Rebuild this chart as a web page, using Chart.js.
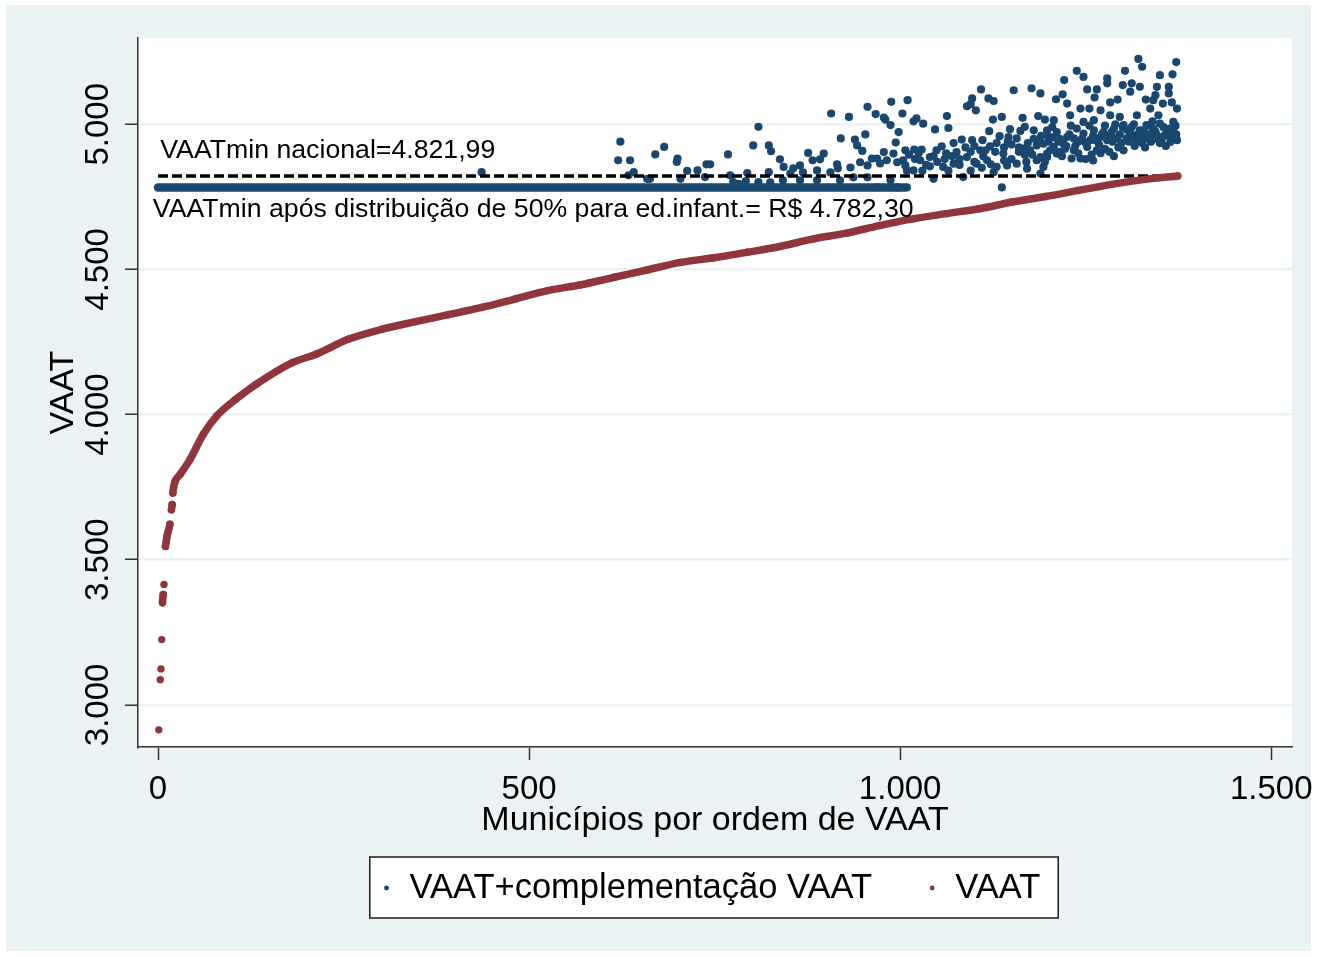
<!DOCTYPE html>
<html><head><meta charset="utf-8">
<script src="https://cdn.jsdelivr.net/npm/chart.js@4.4.1/dist/chart.umd.min.js"></script>
<style>html,body{margin:0;padding:0;background:#fff}#wrap{width:1317px;height:957px}</style>
</head><body><div id="wrap"><canvas id="c" width="1317" height="957"></canvas></div>
<script>
const FONT = "'Liberation Sans', Arial, sans-serif";
const BLUE = '#1A476F', RED = '#90353B', BG = '#EAF2F3';

// Axis ticks
const xTicks = [0, 500, 1000, 1500];
const yTicks = [3000, 3500, 4000, 4500, 5000];

// Reference values
const vaatMinNacional = 4821.99;
const vaatMinApos = 4782.30;

// Series names and annotation texts
const seriesNames = ['VAAT+complementação VAAT', 'VAAT'];
const noteNacional = 'VAATmin nacional=4.821,99';
const noteApos = 'VAATmin após distribuição de 50% para ed.infant.= R$ 4.782,30';

// VAAT (sorted municipalities)
const redX = [1, 3, 4, 5, 6, 7, 8, 10, 11, 12, 14, 16, 18, 19, 20, 21, 23, 30, 43, 61, 79, 105, 132, 181, 213, 257, 302, 347, 391, 436, 481, 525, 570, 615, 659, 704, 749, 794, 838, 883, 928, 972, 1017, 1062, 1106, 1151, 1196, 1240, 1285, 1330, 1374];
const redY = [2914, 3087, 3124, 3225, 3352, 3380, 3415, 3546, 3560, 3580, 3600, 3622, 3672, 3690, 3730, 3750, 3770, 3795, 3845, 3932, 3995, 4053, 4104, 4179, 4208, 4260, 4294, 4320, 4344, 4369, 4398, 4427, 4447, 4473, 4498, 4524, 4540, 4559, 4579, 4605, 4625, 4651, 4674, 4692, 4709, 4732, 4751, 4772, 4793, 4810, 4822];

// VAAT + complementação: municipalities held at the floor value
const blueFlatX = [0, 1006];
// VAAT + complementação: municipalities above the floor
const blueX = [436, 623, 620, 636, 641, 634, 659, 663, 670, 682, 700, 699, 704, 713, 727, 737, 739, 744, 768, 771, 775, 782, 792, 794, 802, 809, 809, 823, 826, 838, 843, 823, 852, 865, 876, 882, 892, 897, 907, 915, 920, 931, 939, 942, 949, 953, 956, 967, 978, 980, 987, 998, 994, 988, 1003, 1010, 1007, 978, 991, 969, 962, 856, 869, 888, 906, 916, 933, 946, 956, 973, 982, 996, 1004, 1009, 937, 956, 987, 888, 865, 842, 825, 919, 996, 1009, 969,
  1018, 1022, 1031, 1047, 1063, 1065, 1090, 1097, 1095, 1102, 1109, 1119, 1126, 1125, 1120, 1137, 1153, 1177, 1189, 1186, 1165, 1168, 1162, 1148, 1195, 1198, 1180, 1019, 1029, 1056, 1072, 1083, 1097, 1111, 1134, 1146, 1157, 1121, 1137, 1045, 1085, 1007, 1027, 1040, 1058, 1072, 1090, 1103, 1117, 1130, 1144, 1157, 1171, 1184, 1193, 1198, 1049, 1076, 1108, 1139, 1166, 1184, 1018, 1126, 1189,
  1321, 1326, 1372, 1238, 1247, 1221, 1279, 1279, 1303, 1300, 1312, 1323, 1310, 1350, 1367, 1346, 1362, 1362, 1344, 1252, 1265, 1219, 1210, 1225, 1262, 1283, 1293, 1331, 1341, 1354, 1366, 1243, 1255, 1270, 1229, 1373, 1337, 1207, 1247, 1261, 1283, 1296, 1319, 1348, 1368, 1198, 1211, 1225, 1238, 1234, 1247, 1261, 1274, 1288, 1301, 1310, 1323, 1332, 1341, 1350, 1359, 1368, 1373, 1364, 1193, 1207, 1220, 1234, 1243, 1231, 1252, 1265, 1256, 1279, 1292, 1301, 1305, 1319, 1332, 1346, 1328, 1189, 1198, 1211, 1270, 1285,
  1300, 1315, 1335, 1355, 1362, 1371, 1340, 1325, 1215, 1228, 1240, 1250, 1260, 1268, 1276, 1286, 1296, 1308, 1316, 1326, 1338, 1352, 1358, 1366, 1344, 1312, 1290, 1276, 1255, 1230, 1205, 1215, 1222, 1258, 1282, 1150, 1160, 1172, 1178, 1140, 1128, 1112, 1100, 1088, 1070, 1060, 1050, 1035, 1020, 1012, 1030, 1065, 1095, 1110, 1150, 1170, 1195, 1180, 1190, 1205,
  1200, 1213, 1224, 1236, 1245, 1263, 1272, 1282, 1298, 1306, 1320, 1330, 1342, 1356, 1364, 1372, 1350, 1336, 1314, 1294, 1270, 1240, 1218, 1202, 1250, 1288, 1260, 1045, 1062, 1080, 1095, 1115, 1130, 1145, 1160, 1175, 1188, 1122, 1140, 1168, 1100, 1080, 1040, 1025];
const blueY = [4835, 4940, 4876, 4876, 4835, 4824, 4812, 4812, 4896, 4922, 4882, 4870, 4812, 4839, 4841, 4818, 4862, 4862, 4896, 4824, 4801, 4795, 4804, 4832, 4927, 4991, 4801, 4927, 4907, 4879, 4853, 4835, 4830, 4858, 4901, 4876, 4879, 4899, 5037, 4862, 4951, 5025, 4947, 4927, 4908, 4965, 5060, 5035, 5023, 5016, 4997, 4973, 4937, 5077, 5037, 5083, 4910, 4904, 4899, 4882, 4882, 4848, 4834, 4841, 4834, 4848, 4851, 4869, 4858, 4865, 4876, 4869, 4876, 4841, 4817, 4817, 4807, 4807, 4807, 4807, 4800, 4807, 4782.3, 4782.3, 4782.3,
  5010, 5020, 5002, 4982, 5028, 4987, 5062, 5089, 5069, 5048, 5120, 5089, 5080, 5016, 4976, 5025, 5117, 5124, 5106, 5028, 5022, 4991, 4977, 4983, 5016, 4962, 4979, 4913, 4913, 4924, 4935, 4947, 4945, 4945, 4959, 4956, 4951, 4924, 4782.3, 4812, 4818, 4858, 4876, 4887, 4853, 4864, 4887, 4864, 4876, 4853, 4858, 4864, 4847, 4876, 4853, 4899, 4910, 4904, 4910, 4899, 4916, 4927, 4841, 4835, 4830,
  5225, 5198, 5214, 5184, 5163, 5152, 5158, 5141, 5184, 5135, 5141, 5129, 5112, 5169, 5172, 5129, 5129, 5106, 5100, 5120, 5120, 5103, 5086, 5071, 5092, 5075, 5085, 5085, 5083, 5071, 5075, 5054, 5054, 5048, 5031, 5054, 5054, 5014, 5008, 5014, 5031, 5025, 5031, 5031, 5008, 4979, 4973, 4956, 4985, 4951, 4968, 4979, 4973, 4985, 4997, 4968, 4979, 4997, 4985, 5002, 4973, 4979, 4945, 4939, 4933, 4922, 4933, 4910, 4882, 4882, 4922, 4910, 4945, 4945, 4951, 4910, 4951, 4945, 4951, 4962, 4979, 4887, 4887, 4899, 4956, 4973,
  4990, 5000, 4965, 4990, 4960, 4995, 5010, 4960, 4950, 4965, 4940, 4935, 4960, 4930, 4915, 4940, 4965, 4940, 4925, 4935, 4940, 4945, 4925, 4955, 4975, 4990, 5000, 4995, 4995, 4995, 4955, 4905, 4915, 4895, 4905, 4930, 4905, 4935, 4895, 4920, 4905, 4890, 4925, 4920, 4890, 4880, 4870, 4860, 4880, 4895, 4840, 4840, 4840, 4850, 4880, 4870, 4870, 4950, 4960, 4990,
  4940, 4940, 4925, 4925, 4950, 4945, 4965, 4960, 4935, 4980, 4965, 4920, 4950, 4960, 4985, 4965, 4935, 4995, 4955, 4920, 4900, 4900, 4890, 4910, 4880, 4890, 4875, 4890, 4900, 4880, 4905, 4910, 4935, 4940, 4920, 4910, 4945, 4862, 4875, 4895, 4870, 4860, 4855, 4900];

// Reference line extent (municipality index range)
const refLineX = [0, 1374];

const fmt = v => String(v).replace(/\B(?=(\d{3})+(?!\d))/g, '.');
const pts = (xs, ys) => xs.map((x, i) => ({x, y: ys[i]}));
const flat = (xs, v) => xs.map(x => ({x, y: v}));

const LEG = {font: 34.5, pad: 54.5, box: 11.5};

const bgPlugin = {
  id: 'bg',
  afterLayout(chart) {
    const lg = chart.legend, ca = chart.chartArea;
    const h = lg.bottom - lg.top;
    lg.left = ca.left - 9; lg.right = ca.right;
    lg.top = 888 - LEG.pad - LEG.font / 2;
    lg.bottom = lg.top + h;
  },
  beforeDraw(chart) {
    const ctx = chart.ctx, ca = chart.chartArea, W = chart.width, H = chart.height;
    ctx.save();
    ctx.fillStyle = '#fff'; ctx.fillRect(0, 0, W, H);
    ctx.fillStyle = BG; ctx.fillRect(6, 5, W - 12, H - 11);
    ctx.fillStyle = '#fff'; ctx.fillRect(ca.left, ca.top, ca.right - ca.left, ca.bottom - ca.top);
    // legend frame
    const lg = chart.legend, p = LEG.pad;
    const lw = lg.lineWidths[0];
    const start = (lg.left + p + lg.right - lw) / 2;
    const end = start + lw - p;
    const cy = lg.top + p + LEG.font / 2;
    ctx.fillStyle = '#fff';
    ctx.fillRect(start - 11, cy - 31, end - start + 29, 61);
    ctx.strokeStyle = '#1a1a1a'; ctx.lineWidth = 1.5;
    ctx.strokeRect(start - 11, cy - 31, end - start + 29, 61);
    ctx.restore();
  },
  afterDatasetsDraw(chart) {
    const ctx = chart.ctx, xs = chart.scales.x, ys = chart.scales.y;
    ctx.save();
    ctx.fillStyle = '#000';
    ctx.font = '26.7px ' + FONT;
    ctx.textBaseline = 'alphabetic';
    ctx.textAlign = 'left';
    ctx.fillText(noteNacional, xs.getPixelForValue(3), ys.getPixelForValue(4883));
    ctx.fillText(noteApos, xs.getPixelForValue(-7), ys.getPixelForValue(4679));
    ctx.restore();
  }
};

new Chart(document.getElementById('c'), {
  type: 'scatter',
  data: {
    datasets: [
      {label: seriesNames[0], data: pts(blueX, blueY), backgroundColor: BLUE, borderColor: BLUE,
       pointRadius: 4.1, pointBorderWidth: 0, pointHoverRadius: 4.1, order: 2},
      {label: seriesNames[1], data: pts(redX, redY), backgroundColor: RED, borderColor: RED,
       pointRadius: 3.7, pointBorderWidth: 0, showLine: true, borderWidth: 7.5, cubicInterpolationMode: 'monotone',
       borderCapStyle: 'round', borderJoinStyle: 'round', order: 0,
       segment: {borderColor: c => {
         const dx = c.p1.parsed.x - c.p0.parsed.x, dy = Math.abs(c.p1.parsed.y - c.p0.parsed.y);
         return (dx > 5 || dy < 30) ? RED : 'rgba(0,0,0,0)';
       }}},
      {label: 'ref', data: flat(refLineX, vaatMinNacional), borderColor: '#000', backgroundColor: '#000',
       showLine: true, borderWidth: 3.5, borderDash: [10, 4], pointRadius: 0, order: 1},
      {label: 'band', data: flat(blueFlatX, vaatMinApos), borderColor: BLUE, backgroundColor: BLUE,
       showLine: true, borderWidth: 8.5, borderCapStyle: 'round', pointRadius: 0, order: 3}
    ]
  },
  options: {
    responsive: false, animation: false, devicePixelRatio: 1,
    layout: {padding: {left: 0, right: 25, top: 38, bottom: 11}, autoPadding: false},
    plugins: {
      tooltip: {enabled: false},
      legend: {
        position: 'bottom',
        labels: {
          font: {family: FONT, size: LEG.font}, color: '#000',
          usePointStyle: true, pointStyle: 'circle', boxWidth: LEG.box, boxHeight: 3.5, padding: LEG.pad,
          filter: it => it.datasetIndex <= 1,
          sort: (a, b) => a.datasetIndex - b.datasetIndex,
          generateLabels: ch => Chart.defaults.plugins.legend.labels.generateLabels(ch).map(it => Object.assign(it, {lineWidth: 0, strokeStyle: 'rgba(0,0,0,0)'}))
        }
      }
    },
    scales: {
      x: {
        type: 'linear', position: 'bottom', min: -27, max: 1528,
        afterBuildTicks: s => { s.ticks = xTicks.map(v => ({value: v})); },
        afterFit: s => { s.height = 100; s.paddingLeft = 0; s.paddingRight = 0; },
        ticks: {font: {family: FONT, size: 33}, color: '#000', padding: 10, maxRotation: 0, autoSkip: false, callback: v => fmt(v)},
        grid: {drawOnChartArea: false, drawTicks: true, tickLength: 13, tickColor: '#333', tickWidth: 1.5},
        border: {display: true, color: '#333', width: 1.5},
        title: {display: true, text: 'Municípios por ordem de VAAT', color: '#000', font: {family: FONT, size: 34}, padding: {top: 0, bottom: 6}}
      },
      y: {
        type: 'linear', position: 'left', min: 2855, max: 5297,
        afterBuildTicks: s => { s.ticks = yTicks.map(v => ({value: v})); },
        afterFit: s => { s.width = 138; s.paddingTop = 0; s.paddingBottom = 0; },
        ticks: {font: {family: FONT, size: 33}, color: '#000', padding: -15, minRotation: 90, maxRotation: 90, crossAlign: 'center', autoSkip: false, callback: v => fmt(v)},
        grid: {color: BG, lineWidth: 2.5, drawTicks: true, tickLength: 13, tickColor: '#333', tickWidth: 1.5},
        border: {display: true, color: '#333', width: 1.5},
        title: {display: true, text: 'VAAT', color: '#000', font: {family: FONT, size: 34}, padding: {top: 43, bottom: 0}}
      }
    }
  },
  plugins: [bgPlugin]
});
</script>
</body></html>
